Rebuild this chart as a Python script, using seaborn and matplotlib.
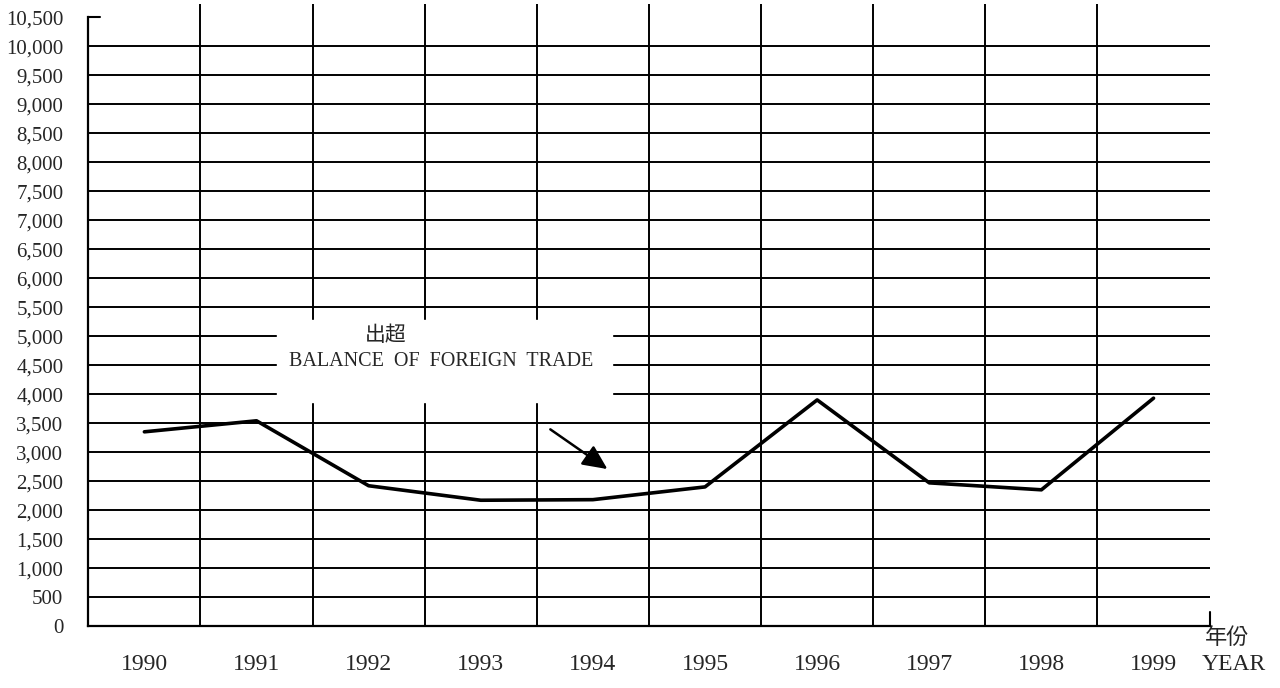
import matplotlib
matplotlib.use("Agg")
import matplotlib.pyplot as plt
import numpy as np
import pandas as pd
import seaborn as sns

# data
years = [1990, 1991, 1992, 1993, 1994, 1995, 1996, 1997, 1998, 1999]
balance = [3350, 3540, 2420, 2170, 2180, 2400, 3900, 2470, 2350, 3930]
y_ticks = list(range(0, 10501, 500))

sns.set_style("white")
plt.rcParams['font.family'] = ['Liberation Serif', 'Noto Sans CJK TC', 'DejaVu Sans']

df = pd.DataFrame({"year": years, "balance": balance})

fig = plt.figure(figsize=(12.8, 6.88), dpi=100)
ax = fig.add_axes([0.069, 0.09, 0.876, 0.885])

# grid: horizontal lines every 500, vertical lines between years
ax.hlines(y_ticks[1:-1], years[0] - 0.5, years[-1] + 0.5, color="black", lw=1.4)
ax.vlines([y + 0.5 for y in years[:-1]], 0, 10720, color="black", lw=1.4, clip_on=False)

# white label box hiding part of the grid
ax.fill_between([1991.18, 1994.17], 3860, 5280, color="white", zorder=3)
ax.text(1992.15, 5020, "出超", ha="center", va="center", fontsize=15,
        family=['Noto Sans CJK TC', 'DejaVu Sans'], zorder=4)
ax.text(1992.65, 4560, "BALANCE  OF  FOREIGN  TRADE", ha="center", va="center",
        fontsize=14.5, stretch="condensed", zorder=4)
ax.annotate("", xy=(1994.15, 2680), xytext=(1993.6, 3420),
            arrowprops=dict(arrowstyle="-|>,head_length=1.5,head_width=0.7",
                            color="black", lw=1.8), zorder=4)

sns.lineplot(data=df, x="year", y="balance", color="black", lw=2.6, ax=ax, zorder=5)

ax.set_xlim(years[0] - 0.5, years[-1] + 0.5)
ax.set_ylim(0, 10500)
ax.set_yticks(y_ticks)
ax.set_yticklabels([f"{v:,}" for v in y_ticks], fontsize=15)
ax.set_xticks(years)
ax.set_xticklabels([str(y) for y in years], fontsize=17)
ax.tick_params(axis="x", length=0, pad=20)
ax.tick_params(axis="y", length=0, pad=18)
ax.set_xlabel("")
ax.set_ylabel("")

for side in ["top", "right"]:
    ax.spines[side].set_visible(False)
for side in ["left", "bottom"]:
    ax.spines[side].set_color("black")
    ax.spines[side].set_linewidth(1.6)

# small end marks on the axes
ax.plot([1989.5, 1989.6], [10500, 10500], color="black", lw=1.5, clip_on=False)
ax.plot([1999.5, 1999.5], [0, 250], color="black", lw=1.5, clip_on=False)

ax.text(1999.66, -200, "年份", ha="center", va="center", fontsize=16,
        family=['Noto Sans CJK TC', 'DejaVu Sans'], clip_on=False)
ax.text(1999.72, -660, "YEAR", ha="center", va="center", fontsize=17, clip_on=False)

fig.savefig("out.png", dpi=100)
